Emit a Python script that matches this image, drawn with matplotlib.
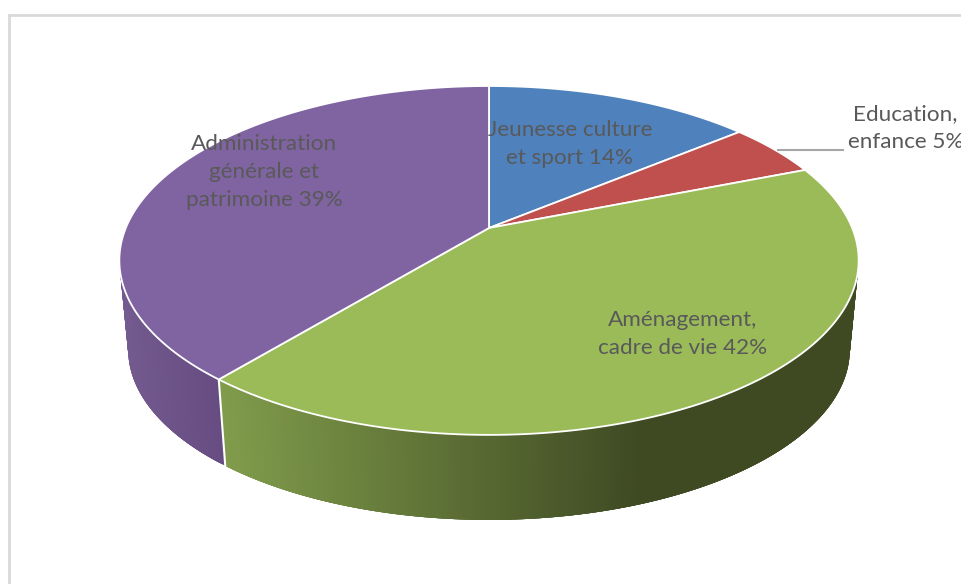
import numpy as np
import matplotlib
matplotlib.use("Agg")
import matplotlib.pyplot as plt
from matplotlib.collections import PolyCollection
from matplotlib.colors import to_rgb

categories = ["Jeunesse culture\net sport", "Education,\nenfance", "Aménagement,\ncadre de vie", "Administration\ngénérale et\npatrimoine"]
values = [14, 5, 42, 39]
top_colors = ["#4f81bd", "#c0504d", "#9bbb59", "#8064a2"]
side_left = ["#4f81bd", "#c0504d", "#809c4b", "#735a8f"]
side_right = ["#3a5f8c", "#8c3a38", "#3f4a23", "#664c80"]
label_pos = [(570, 144), (905.5, 128), (683, 334), (264.5, 172)]

plt.rcParams["font.family"] = ["Lato", "DejaVu Sans"]
fig = plt.figure(figsize=(9.62, 5.84), dpi=100, facecolor="white")
ax = fig.add_axes([0, 0, 1, 1])
ax.set_xlim(0, 962)
ax.set_ylim(584, 0)
ax.axis("off")

CX, CY, P, K, A = 489.0, 228.0, 126.0, 0.186, 363.2
RIM_S, RIM_YC, TOP_YC = 0.976, 349.7, 260.5


def project(theta):
    x, y = np.sin(theta), np.cos(theta)
    d = 1 + K * y
    return CX + A * x / d, (CY - P * y) / d


def lower(px, py):
    return CX + RIM_S * (px - CX), RIM_YC + RIM_S * (py - TOP_YC)


edges = np.concatenate([[0], np.cumsum(values)]) / np.sum(values) * 2 * np.pi

# sides, shaded along x; each strip overlaps the next so no seams show
for i in range(len(values)):
    t = np.linspace(edges[i], edges[i + 1], 240)
    px, py = project(t)
    qx, qy = lower(px, py)
    polys, cols = [], []
    x0, x1 = (221.0, 640.0) if i == 2 else (120.0, 221.0)
    c0, c1 = np.array(to_rgb(side_left[i])), np.array(to_rgb(side_right[i]))
    for j in range(len(t) - 1):
        k = min(j + 4, len(t) - 1)
        polys.append(list(zip(px[j:k + 1], py[j:k + 1])) + list(zip(qx[j:k + 1][::-1], qy[j:k + 1][::-1])))
        f = np.clip((0.5 * (px[j] + px[j + 1]) - x0) / (x1 - x0), 0, 1)
        cols.append(c0 + (c1 - c0) * f)
    ax.add_collection(PolyCollection(polys, facecolors=cols, edgecolors="none", zorder=2 + i * 0.01))

# white seam on the visible side boundary
sx, sy = project(edges[3])
qx, qy = lower(sx, sy)
ax.plot([sx, qx], [sy, qy], color="white", lw=1.5, zorder=3)

# top faces
for i in range(len(values)):
    t = np.linspace(edges[i], edges[i + 1], 200)
    px, py = project(t)
    ax.fill(np.r_[CX, px], np.r_[CY, py], facecolor=top_colors[i], edgecolor="white", lw=1.3, joinstyle="round", zorder=4)

# labels
for cat, v, (lx, ly) in zip(categories, values, label_pos):
    ax.text(lx, ly, f"{cat} {v}%", ha="center", va="center", fontsize=16.2, color="#595959",
            linespacing=1.52, zorder=6, clip_on=False)
ax.plot([778, 843], [150, 150], color="#a6a6a6", lw=1.5, zorder=5)

# chart frame
ax.plot([9, 9], [584, 15], color="#d9d9d9", lw=2, zorder=1, solid_capstyle="projecting")
ax.plot([9, 962], [15, 15], color="#d9d9d9", lw=2, zorder=1, solid_capstyle="projecting")

fig.savefig("out.png", dpi=100, facecolor="white")
